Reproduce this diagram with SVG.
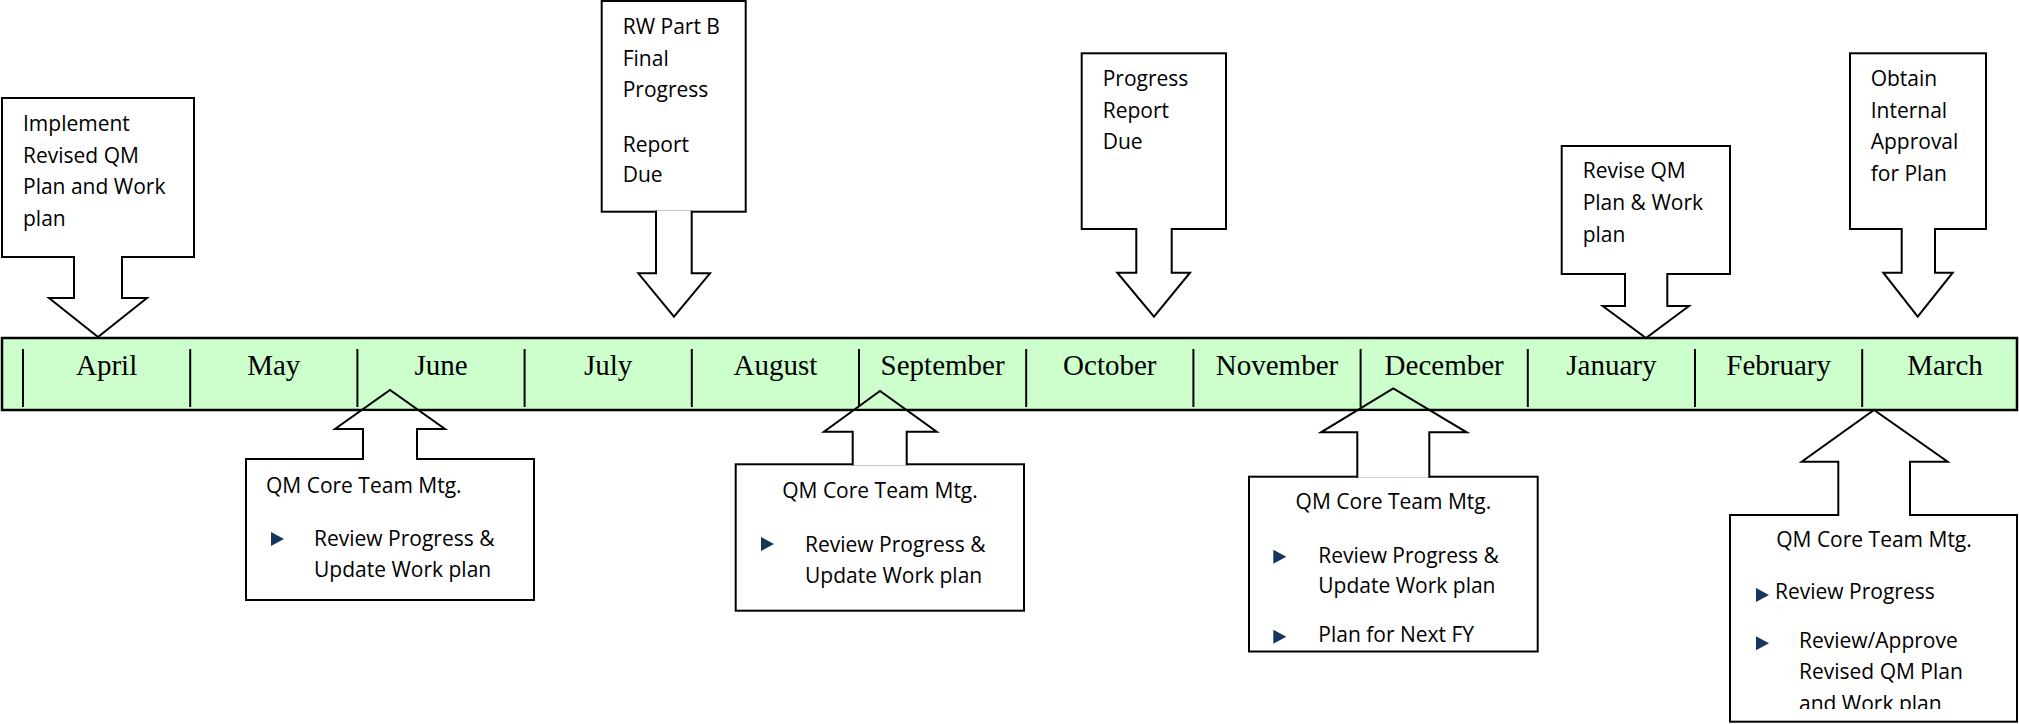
<svg xmlns="http://www.w3.org/2000/svg" width="2019" height="724" viewBox="0 0 2019 724">
<style>
.bg{fill:#fff}
.bar{fill:#CCFFCC;stroke:#000;stroke-width:2.5}
.div{stroke:#000;stroke-width:2}
.box{fill:#fff;stroke:#000;stroke-width:2}
.arr{fill:#fff;stroke:#000;stroke-width:2;stroke-linejoin:miter}
.fillonly{fill:#fff;stroke:none}
.lineonly{fill:none;stroke:#000;stroke-width:2;stroke-linejoin:miter}
.t{font-family:"Open Sans","Liberation Sans",sans-serif;font-size:21px;fill:#000}
.c{text-anchor:middle}
.m{font-family:"Liberation Serif","Times New Roman",serif;font-size:29px;fill:#000;text-anchor:middle}
.bul{fill:#17365D}
</style>
<defs>
<clipPath id="clipMar"><rect x="1730" y="515" width="288" height="194"/></clipPath>
<clipPath id="belowBar"><rect x="0" y="411.3" width="2019" height="313"/></clipPath>
</defs>
<rect class="bg" x="0" y="0" width="2019" height="724"/>

<g id="timeline">
<rect class="bar" x="2" y="338" width="2015" height="72"/>
<g class="div">
<line x1="23" y1="349" x2="23" y2="407"/>
<line x1="190.2" y1="349" x2="190.2" y2="407"/>
<line x1="357.4" y1="349" x2="357.4" y2="407"/>
<line x1="524.6" y1="349" x2="524.6" y2="407"/>
<line x1="691.8" y1="349" x2="691.8" y2="407"/>
<line x1="859" y1="349" x2="859" y2="407"/>
<line x1="1026.2" y1="349" x2="1026.2" y2="407"/>
<line x1="1193.4" y1="349" x2="1193.4" y2="407"/>
<line x1="1360.6" y1="349" x2="1360.6" y2="407"/>
<line x1="1527.8" y1="349" x2="1527.8" y2="407"/>
<line x1="1695" y1="349" x2="1695" y2="407"/>
<line x1="1862.2" y1="349" x2="1862.2" y2="407"/>
</g>
<text class="m" x="106.6" y="375">April</text>
<text class="m" x="273.8" y="375">May</text>
<text class="m" x="441" y="375">June</text>
<text class="m" x="608.2" y="375">July</text>
<text class="m" x="775.4" y="375">August</text>
<text class="m" x="942.6" y="375">September</text>
<text class="m" x="1109.8" y="375">October</text>
<text class="m" x="1277" y="375">November</text>
<text class="m" x="1444.2" y="375">December</text>
<text class="m" x="1611.4" y="375">January</text>
<text class="m" x="1778.6" y="375">February</text>
<text class="m" x="1945" y="375">March</text>
</g>

<g id="callout-april">
<rect class="box" x="2" y="98" width="192" height="159"/>
<text class="t" x="23" y="131">Implement</text>
<text class="t" x="23" y="162.5">Revised QM</text>
<text class="t" x="23" y="194">Plan and Work</text>
<text class="t" x="23" y="225.5">plan</text>
</g>

<g id="callout-july">
<rect class="box" x="601.7" y="1" width="144" height="210.7"/>
<text class="t" x="622.7" y="34.3">RW Part B</text>
<text class="t" x="622.7" y="65.7">Final</text>
<text class="t" x="622.7" y="96.7">Progress</text>
<text class="t" x="622.7" y="151.7">Report</text>
<text class="t" x="622.7" y="182.3">Due</text>
</g>

<g id="callout-october">
<rect class="box" x="1081.7" y="53.3" width="144.3" height="175.7"/>
<text class="t" x="1102.7" y="85.7">Progress</text>
<text class="t" x="1102.7" y="117.7">Report</text>
<text class="t" x="1102.7" y="149.3">Due</text>
</g>

<g id="callout-january">
<rect class="box" x="1561.7" y="146" width="168.3" height="128"/>
<text class="t" x="1582.7" y="178.3">Revise QM</text>
<text class="t" x="1582.7" y="210">Plan &amp; Work</text>
<text class="t" x="1582.7" y="241.7">plan</text>
</g>

<g id="callout-march-top">
<rect class="box" x="1850" y="53.3" width="136" height="175.7"/>
<text class="t" x="1870.7" y="85.7">Obtain</text>
<text class="t" x="1870.7" y="117.7">Internal</text>
<text class="t" x="1870.7" y="149.3">Approval</text>
<text class="t" x="1870.7" y="181">for Plan</text>
</g>

<g id="callout-june">
<rect class="box" x="246" y="459" width="288" height="141"/>
<text class="t" x="266" y="493">QM Core Team Mtg.</text>
<polygon class="bul" points="271,532 284,539 271,546"/>
<text class="t" x="314" y="546.4">Review Progress &amp;</text>
<text class="t" x="314" y="577.4">Update Work plan</text>
</g>

<g id="callout-september">
<rect class="box" x="735.7" y="464.3" width="288.3" height="146.4"/>
<text class="t c" x="880" y="498.3">QM Core Team Mtg.</text>
<polygon class="bul" points="761,537 774,544 761,551"/>
<text class="t" x="805" y="551.7">Review Progress &amp;</text>
<text class="t" x="805" y="582.7">Update Work plan</text>
</g>

<g id="callout-december">
<rect class="box" x="1249" y="476.7" width="288.7" height="174.8"/>
<text class="t c" x="1393.4" y="509.3">QM Core Team Mtg.</text>
<polygon class="bul" points="1273.3,549.7 1286.3,556.7 1273.3,563.7"/>
<text class="t" x="1318.3" y="563.3">Review Progress &amp;</text>
<text class="t" x="1318.3" y="593.3">Update Work plan</text>
<polygon class="bul" points="1273.3,629.7 1286.3,636.7 1273.3,643.7"/>
<text class="t" x="1318.3" y="641.7">Plan for Next FY</text>
</g>

<g id="callout-march-bottom">
<rect class="box" x="1730" y="515" width="287" height="206.7"/>
<text class="t c" x="1874" y="546.7">QM Core Team Mtg.</text>
<polygon class="bul" points="1756,588 1769,595 1756,602"/>
<text class="t" x="1775" y="599">Review Progress</text>
<polygon class="bul" points="1756,636.3 1769,643.3 1756,650.3"/>
<text class="t" x="1799" y="648.3">Review/Approve</text>
<text class="t" x="1799" y="679.3">Revised QM Plan</text>
<text class="t" x="1799" y="711" clip-path="url(#clipMar)">and Work plan</text>
</g>

<g id="connectors">
<path class="arr" d="M74,256 V298 H49 L98,337 L147,298 H122 V256"/>
<path class="arr" d="M656,210.7 V273.3 H638.3 L674,316.7 L710,273.3 H691.7 V210.7"/>
<path class="arr" d="M1136.3,228 V272.7 H1117.3 L1154,316.7 L1190,272.7 H1171.7 V228"/>
<path class="arr" d="M1625,273 V306 H1602.7 L1646,338 L1689,306 H1667.3 V273"/>
<path class="arr" d="M1901.7,228 V272.7 H1883.3 L1917.7,316.7 L1952.7,272.7 H1935 V228"/>
<g clip-path="url(#belowBar)">
<path class="fillonly" d="M363,460 V429 H335 L390,390 L445,429 H417 V460 Z"/>
<path class="fillonly" d="M852.7,465.3 V431.7 H824 L880,391 L936.7,431.7 H906.7 V465.3 Z"/>
<path class="fillonly" d="M1357.3,477.7 V432.3 H1321 L1393.3,388.3 L1466.7,432.3 H1429.3 V477.7 Z"/>
<path class="fillonly" d="M1838.3,516 V461.7 H1801.7 L1874,410 L1947.7,461.7 H1910 V516 Z"/>
</g>
<path class="lineonly" d="M363,460 V429 H335 L390,390 L445,429 H417 V460"/>
<path class="lineonly" d="M852.7,465.3 V431.7 H824 L880,391 L936.7,431.7 H906.7 V465.3"/>
<path class="lineonly" d="M1357.3,477.7 V432.3 H1321 L1393.3,388.3 L1466.7,432.3 H1429.3 V477.7"/>
<path class="lineonly" d="M1838.3,516 V461.7 H1801.7 L1874,410 L1947.7,461.7 H1910 V516"/>
</g>
</svg>
